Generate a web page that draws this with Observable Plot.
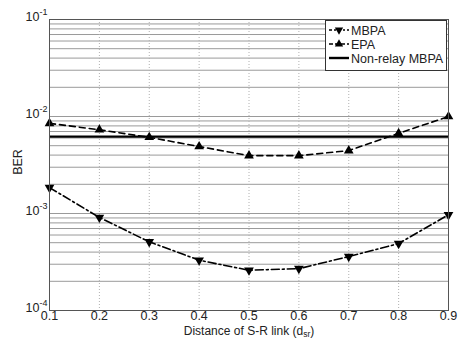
<!DOCTYPE html>
<html><head><meta charset="utf-8">
<script src="https://cdn.jsdelivr.net/npm/d3@7"></script>
<script src="https://cdn.jsdelivr.net/npm/@observablehq/plot@0.6"></script>
<style>
body{margin:0;background:#fff}
#chart{position:relative;width:459px;height:339px}
</style>
</head><body><div id="chart"></div>
<script>
const distance = [0.1, 0.2, 0.3, 0.4, 0.5, 0.6, 0.7, 0.8, 0.9];
const mbpa = [1.85e-3, 9.1e-4, 5.1e-4, 3.3e-4, 2.6e-4, 2.7e-4, 3.6e-4, 4.9e-4, 9.7e-4];
const epa = [8.5e-3, 7.3e-3, 6.1e-3, 4.9e-3, 3.95e-3, 3.95e-3, 4.45e-3, 6.7e-3, 1.0e-2];
const nonRelayMbpa = [6.2e-3];
const xTicks = [0.1, 0.2, 0.3, 0.4, 0.5, 0.6, 0.7, 0.8, 0.9];
const yTicks = [1e-4, 1e-3, 1e-2, 1e-1];
const yTickExponents = ["-4", "-3", "-2", "-1"];
const seriesNames = ["MBPA", "EPA", "Non-relay MBPA"];
const xLabel = "Distance of S-R link (d";
const xLabelSub = "sr";
const yLabel = "BER";

const yGrid = [];
for (let k = -4; k < -1; k++) for (let m = 1; m < 10; m++) yGrid.push(m * Math.pow(10, k));
yGrid.push(1e-1);

const data = distance.map((d, i) => ({d, mbpa: mbpa[i], epa: epa[i]}));
const font = "'Liberation Sans', Arial, sans-serif";

const plot = Plot.plot({
  width: 459, height: 339,
  marginLeft: 49, marginRight: 11, marginTop: 19, marginBottom: 29,
  style: {fontFamily: font, fontSize: "12.5px", background: "#fff", color: "#222"},
  x: {domain: [0.1, 0.9], ticks: xTicks, tickFormat: d3.format(".1f"), tickSize: 0, tickPadding: 1, label: null},
  y: {type: "log", domain: [1e-4, 1e-1], ticks: yTicks, tickSize: 0, tickPadding: 2, label: null,
      tickFormat: d => "10^" + yTickExponents[yTicks.findIndex(t => Math.abs(t - d) / t < 1e-6)]},
  marks: [
    Plot.ruleY(yGrid, {stroke: "#9a9a9a", strokeWidth: 1}),
    Plot.ruleX(xTicks, {stroke: "#b0b0b0", strokeWidth: 1, strokeDasharray: "1,2"}),
    Plot.ruleY(nonRelayMbpa, {stroke: "#000", strokeWidth: 2.2}),
    Plot.line(data, {x: "d", y: "epa", stroke: "#000", strokeWidth: 1.6, strokeDasharray: "6,4"}),
    Plot.dot(data, {x: "d", y: "epa", symbol: "triangle", fill: "#000", r: 3.6}),
    Plot.line(data, {x: "d", y: "mbpa", stroke: "#000", strokeWidth: 1.6, strokeDasharray: "8,3,2,3"}),
    Plot.dot(data, {x: "d", y: "mbpa", symbol: "triangle", rotate: 180, fill: "#000", r: 3.6}),
    Plot.frame({stroke: "#555", strokeWidth: 1})
  ]
});
document.getElementById("chart").appendChild(plot);

const svg = d3.select(plot);
// superscript exponents on y tick labels, nudged up slightly as in the reference
svg.selectAll('g[aria-label="y-axis tick label"] text').each(function() {
  const t = d3.select(this);
  const parts = t.text().split("^");
  t.text(null);
  t.append("tspan").attr("dy", "-3").text(parts[0]);
  t.append("tspan").attr("dy", "-0.6em").attr("font-size", "9px").text(parts[1]);
});

// axis labels
const xl = svg.append("text").attr("x", 249).attr("y", 335).attr("text-anchor", "middle")
  .attr("font-family", font).attr("font-size", "12px").attr("fill", "#222");
xl.append("tspan").text(xLabel);
xl.append("tspan").attr("dy", "2").attr("font-size", "8.5px").text(xLabelSub);
xl.append("tspan").attr("dy", "-2").text(")");
svg.append("text").attr("transform", "translate(22,162) rotate(-90)").attr("text-anchor", "middle")
  .attr("font-family", font).attr("font-size", "12.5px").attr("fill", "#222").text(yLabel);

// legend
const lg = svg.append("g").attr("font-family", font).attr("font-size", "12.5px").attr("text-anchor", "start");
lg.append("rect").attr("x", 325.5).attr("y", 20.5).attr("width", 121).attr("height", 50)
  .style("fill", "#fff").style("stroke", "#333").style("stroke-width", "1px");
const styles = [
  {dash: "3,2,2,2", sym: "down", w: 1.6},
  {dash: "4,2", sym: "up", w: 1.6},
  {dash: null, sym: null, w: 2.4}
];
const sym = d3.symbol(d3.symbolTriangle, 30);
seriesNames.forEach((name, i) => {
  const y = 30 + i * 14;
  const st = styles[i];
  const ln = lg.append("line").attr("x1", 329).attr("x2", 349).attr("y1", y).attr("y2", y)
    .style("stroke", "#000").style("stroke-width", st.w + "px");
  if (st.dash) ln.style("stroke-dasharray", st.dash);
  if (st.sym) lg.append("path").attr("d", sym()).style("fill", "#000")
    .attr("transform", `translate(339,${y}) rotate(${st.sym === "down" ? 180 : 0})`);
  lg.append("text").attr("x", 351).attr("y", y + 4.5).style("fill", "#222").text(name);
});
</script>
</body></html>
